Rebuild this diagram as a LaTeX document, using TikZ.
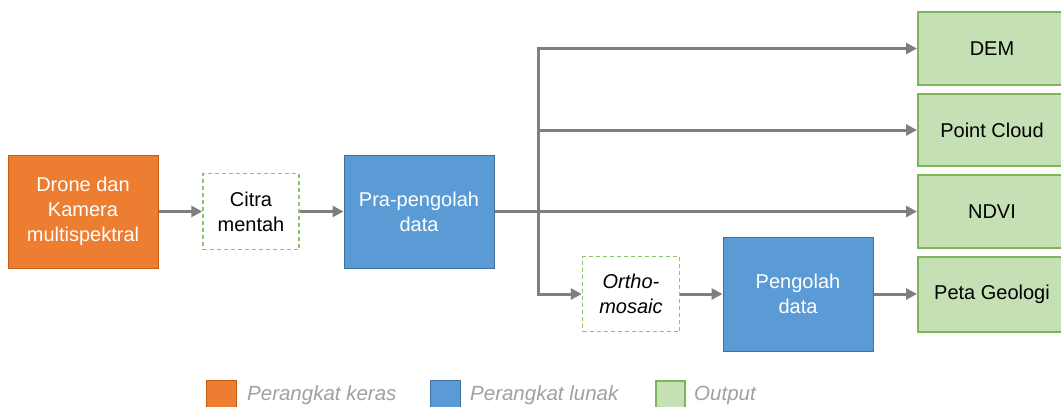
\documentclass[tikz,border=0pt]{standalone}
\usepackage{fontspec}
\setmainfont{Liberation Sans}
\usetikzlibrary{arrows.meta,calc}
\definecolor{hwfill}{HTML}{ED7D31}
\definecolor{hwdraw}{HTML}{C55A11}
\definecolor{swfill}{HTML}{5B9BD5}
\definecolor{swdraw}{HTML}{41719C}
\definecolor{outfill}{HTML}{C5E0B4}
\definecolor{outdraw}{HTML}{7DB65A}
\definecolor{dashgreen}{HTML}{8CC46A}
\definecolor{arrgray}{HTML}{7F7F7F}
\definecolor{leggray}{HTML}{A0A0A0}
\tikzset{
  txt/.style={font=\fontsize{20}{25}\selectfont, align=center, inner sep=0pt},
  hwbox/.style={txt, fill=hwfill, draw=hwdraw, line width=1pt, text=white},
  swbox/.style={txt, fill=swfill, draw=swdraw, line width=1pt, text=white},
  outbox/.style={txt, fill=outfill, draw=outdraw, line width=2pt, text=black, minimum width=148pt},
  databox/.style={txt, draw=dashgreen, dash pattern=on 4pt off 3pt, line width=1.5pt, fill=white, text=black},
  arr/.style={draw=arrgray, line width=3pt, -{Triangle[length=11pt,width=11pt]}},
  legtxt/.style={font=\fontsize{20.5}{22}\selectfont\itshape, text=leggray, anchor=west, inner sep=0pt},
}
\begin{document}
\begin{tikzpicture}[x=1pt,y=-1pt]
\useasboundingbox (0,0) rectangle (1061,407);
% nodes
\node[hwbox, minimum width=150pt, minimum height=113pt] (drone) at (83,211.5) {Drone dan\\Kamera\\multispektral};
\node[databox, minimum width=96pt, minimum height=76pt] (citra) at (251,211.5) {Citra\\mentah};
\node[swbox, minimum width=150pt, minimum height=113pt] (pra) at (419,211.5) {Pra-pengolah\\data};
\node[outbox, minimum height=73pt, anchor=west] (dem) at (917,48.5) {DEM};
\node[outbox, minimum height=72pt, anchor=west] (pc) at (917,130) {Point Cloud};
\node[outbox, minimum height=73pt, anchor=west] (ndvi) at (917,211.5) {NDVI};
\node[outbox, minimum height=75pt, anchor=west] (peta) at (917,294) {Peta Geologi};
\node[databox, minimum width=97pt, minimum height=75pt] (ortho) at (631,294) {\itshape Ortho-\\\itshape mosaic};
\node[swbox, minimum width=150pt, minimum height=114pt] (peng) at (798,294) {Pengolah\\data};
\coordinate (jt) at (538,48.5);
\coordinate (jb) at (538,294);
% connectors
\draw[arr] (drone.east) -- (citra.west);
\draw[arr] (citra.east) -- (pra.west);
\draw[arr] (pra.east) -- (ndvi.west);
\draw[arr] (jt) -- (jb) -- (ortho.west);
\draw[arr, line cap=rect] (jt) -- (dem.west);
\draw[arr] (jt |- pc.west) -- (pc.west);
\draw[arr] (ortho.east) -- (peng.west);
\draw[arr] (peng.east) -- (peta.west);
% legend
\node[fill=hwfill, draw=hwdraw, line width=1pt, minimum width=30pt, minimum height=32pt, anchor=north west, inner sep=0pt] (lhw) at (206,380) {};
\node[legtxt] (lhwt) at (247,395) {Perangkat keras};
\node[fill=swfill, draw=swdraw, line width=1pt, minimum width=30pt, minimum height=32pt, anchor=north west, inner sep=0pt] (lsw) at (430,380) {};
\node[legtxt] (lswt) at (470,395) {Perangkat lunak};
\node[fill=outfill, draw=outdraw, line width=1.5pt, minimum width=29pt, minimum height=32pt, anchor=north west, inner sep=0pt] (lout) at (655,380) {};
\node[legtxt] (loutt) at (694,395) {Output};
\end{tikzpicture}
\end{document}
